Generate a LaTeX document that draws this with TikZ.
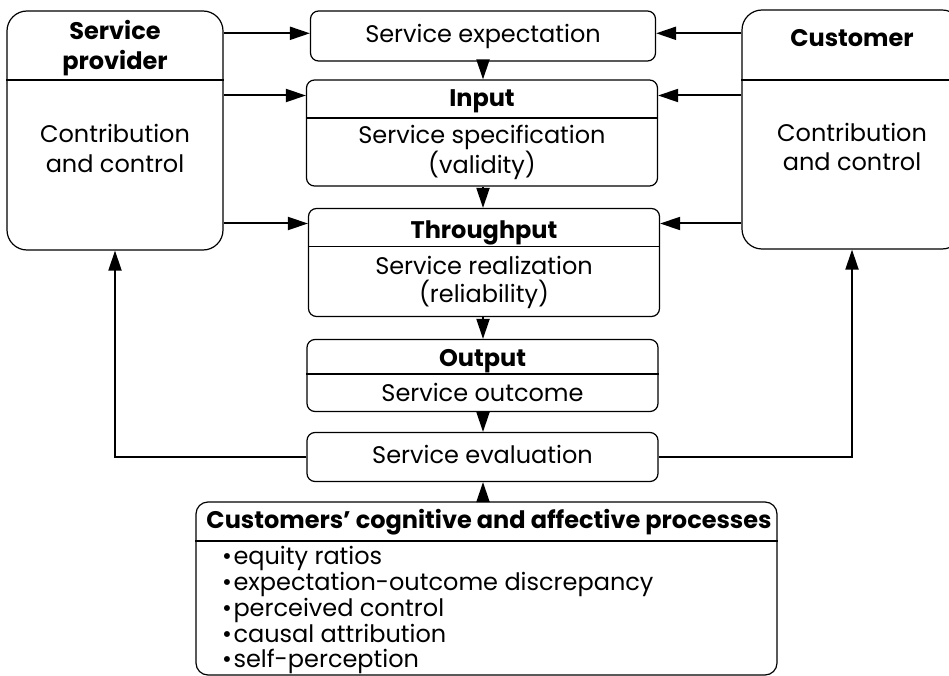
\documentclass[tikz,border=0pt]{standalone}
\usepackage{fontspec}
\setmainfont{Poppins}
\usetikzlibrary{arrows.meta}
\newcommand{\bul}{•\hspace{0.06em}}
\begin{document}
\begin{tikzpicture}[x=1pt,y=-1pt,
  box/.style={draw, line width=1.2pt, rounded corners=8pt, inner sep=0pt},
  bigbox/.style={box, rounded corners=20pt},
  divider/.style={line width=1.2pt},
  txt/.style={inner sep=0pt, anchor=base, font=\fontsize{24}{28}\selectfont},
  ttl/.style={txt, font=\fontsize{24}{28}\selectfont\bfseries},
  item/.style={txt, anchor=base west},
  arr/.style={line width=2pt, -{Triangle[length=20pt,width=13pt]}}
]
\useasboundingbox (0,0) rectangle (949,676);

% side boxes
\node[bigbox, minimum width=216pt, minimum height=239pt] (prov) at (115,130.5) {};
\draw[divider] (prov.west |- 0,80) -- (prov.east |- 0,80);
\node[ttl] (provA) at (115,40) {Service};
\node[ttl] (provB) at (115,70) {provider};
\node[txt] (provC) at (115,143) {Contribution};
\node[txt] (provD) at (115,172.5) {and control};

\node[bigbox, minimum width=220pt, minimum height=239pt] (cust) at (852,129.5) {};
\draw[divider] (cust.west |- 0,80) -- (cust.east |- 0,80);
\node[ttl] (custA) at (852,46.5) {Customer};
\node[txt] (custC) at (852,141.5) {Contribution};
\node[txt] (custD) at (852,170.5) {and control};

% central chain
\node[box, minimum width=345pt, minimum height=50pt] (exp) at (483,36) {};
\node[txt] (expT) at (483,43) {Service expectation};

\node[box, minimum width=351pt, minimum height=106pt] (inp) at (482,133) {};
\draw[divider] (inp.west |- 0,118) -- (inp.east |- 0,118);
\node[ttl] (inpA) at (482,107) {Input};
\node[txt] (inpB) at (482,144) {Service specification};
\node[txt] (inpC) at (482,173.5) {(validity)};

\node[box, minimum width=351pt, minimum height=108pt] (thr) at (484,262.5) {};
\draw[divider] (thr.west |- 0,246.7) -- (thr.east |- 0,246.7);
\node[ttl] (thrA) at (484,238) {Throughput};
\node[txt] (thrB) at (484,274) {Service realization};
\node[txt] (thrC) at (484,302) {(reliability)};

\node[box, minimum width=351pt, minimum height=72pt] (out) at (482.5,375.5) {};
\draw[divider] (out.west |- 0,374) -- (out.east |- 0,374);
\node[ttl] (outA) at (482.5,366) {Output};
\node[txt] (outB) at (482.5,401) {Service outcome};

\node[box, minimum width=351pt, minimum height=49pt] (eval) at (482.5,457) {};
\node[txt] (evalT) at (482.5,463) {Service evaluation};

% processes box
\node[box, rounded corners=12pt, minimum width=581pt, minimum height=173pt] (proc) at (486.5,588.5) {};
\draw[divider] (proc.west |- 0,541) -- (proc.east |- 0,541);
\node[ttl] (procT) at (489,528.5) {Customers' cognitive and affective processes};
\node[item] (p1) at (222,564) {\bul equity ratios};
\node[item] (p2) at (222,590) {\bul expectation-outcome discrepancy};
\node[item] (p3) at (222,616) {\bul perceived control};
\node[item] (p4) at (222,642) {\bul causal attribution};
\node[item] (p5) at (222,667.5) {\bul self-perception};

% arrow levels
\coordinate (yA) at (0,33.3);
\coordinate (yB) at (0,95.5);
\coordinate (yC) at (0,223.5);

\draw[arr] (prov.east |- yA) -- (exp.west |- yA);
\draw[arr] (prov.east |- yB) -- (inp.west |- yB);
\draw[arr] (prov.east |- yC) -- (thr.west |- yC);
\draw[arr] (cust.west |- yA) -- (exp.east |- yA);
\draw[arr] (cust.west |- yB) -- (inp.east |- yB);
\draw[arr] (cust.west |- yC) -- (thr.east |- yC);

\draw[arr] (exp.south) -- (exp.south |- inp.north);
\draw[arr] (exp.south |- inp.south) -- (exp.south |- thr.north);
\draw[arr] (exp.south |- thr.south) -- (exp.south |- out.north);
\draw[arr] (exp.south |- out.south) -- (exp.south |- eval.north);
\draw[arr] (exp.south |- proc.north) -- (exp.south |- eval.south);

\draw[arr] (eval.west) -| (prov.south);
\draw[arr] (eval.east) -| (cust.south);
\end{tikzpicture}
\end{document}
